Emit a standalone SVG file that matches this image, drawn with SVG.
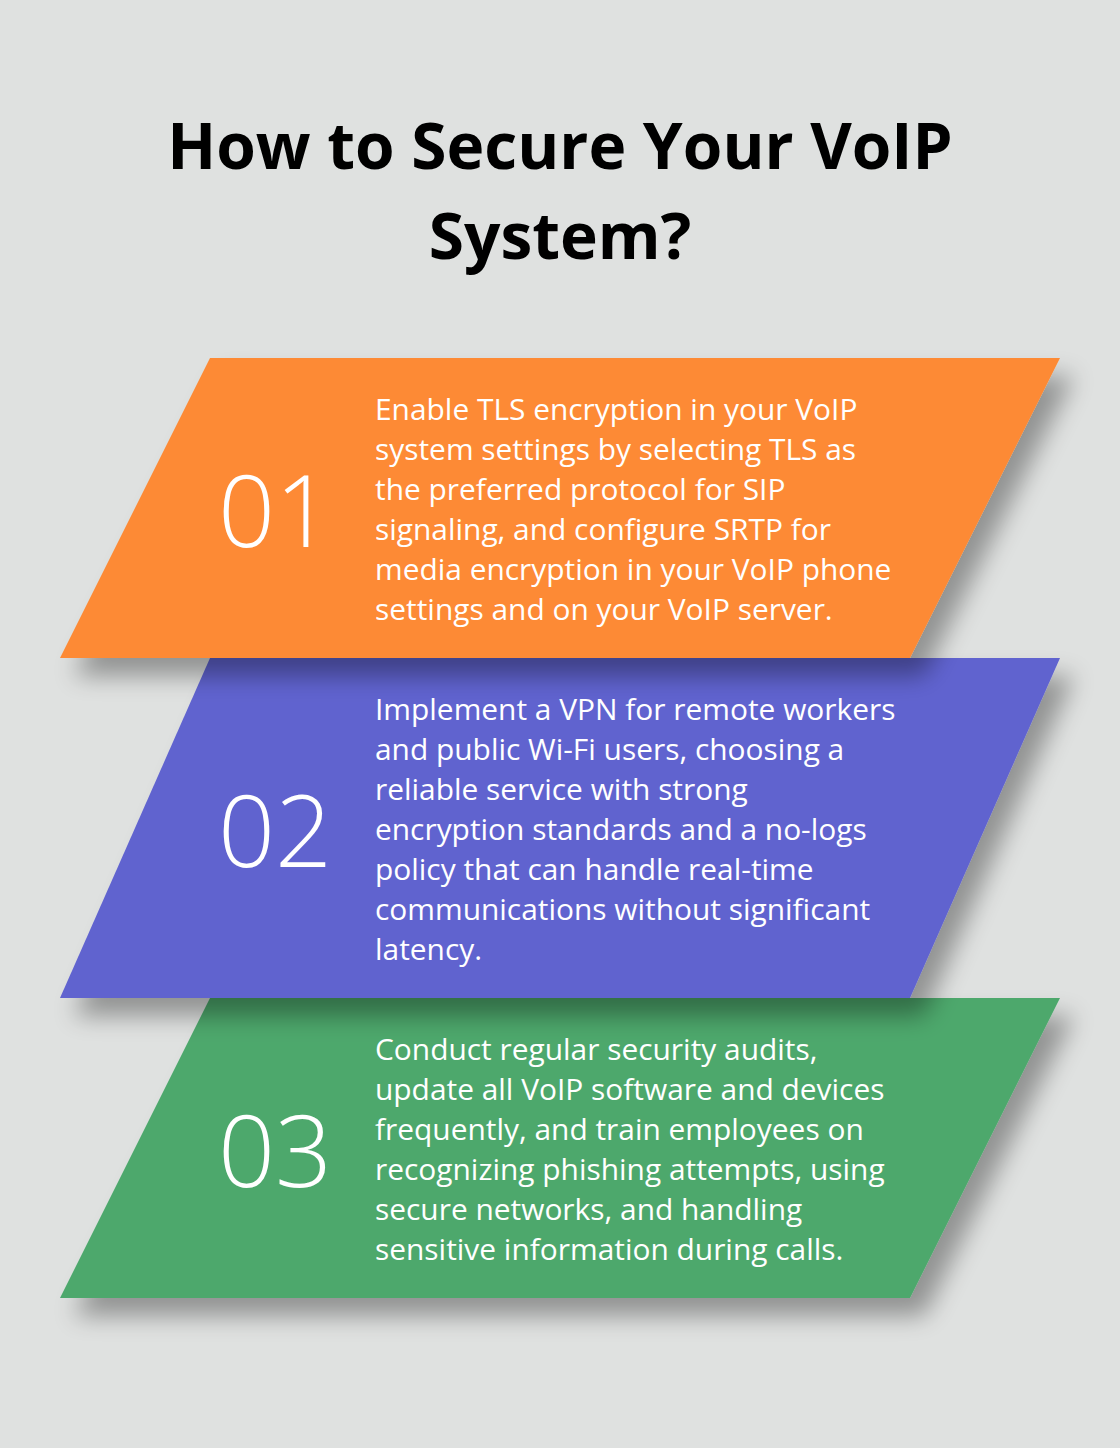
<svg xmlns="http://www.w3.org/2000/svg" width="1120" height="1448" viewBox="0 0 1120 1448">
<style>
.t{font-family:"Open Sans","Noto Sans",sans-serif;font-weight:700;font-size:64px;fill:#000;text-anchor:middle}
.b{font-family:"Open Sans","Noto Sans",sans-serif;font-size:29.9px;fill:#fff}
.n{font-family:"Open Sans","Noto Sans",sans-serif;font-weight:300;font-size:100px;fill:#fff}
</style>
<defs>
<filter id="sh" x="-20%" y="-20%" width="140%" height="160%">
<feGaussianBlur in="SourceAlpha" stdDeviation="12"/>
<feOffset dx="14" dy="18"/>
<feComponentTransfer><feFuncA type="linear" slope="0.35"/></feComponentTransfer>
<feMerge><feMergeNode/><feMergeNode in="SourceGraphic"/></feMerge>
</filter>
</defs>
<rect width="1120" height="1448" fill="#dfe1e0"/>
<text class="t" x="560" y="169">How to Secure Your VoIP</text>
<text class="t" x="560" y="259">System?</text>
<g id="step3">
<polygon points="210,998 1060,998 910,1298 60,1298" fill="#4ea86c" filter="url(#sh)"/>
<text class="n" x="218" y="1187">03</text>
<text class="b"><tspan x="375" y="1060">Conduct regular security audits,</tspan><tspan x="375" y="1100">update all VoIP software and devices</tspan><tspan x="375" y="1140">frequently, and train employees on</tspan><tspan x="375" y="1180">recognizing phishing attempts, using</tspan><tspan x="375" y="1220">secure networks, and handling</tspan><tspan x="375" y="1260">sensitive information during calls.</tspan></text>
</g>
<g id="step2">
<polygon points="210,658 1060,658 910,998 60,998" fill="#6063cf" filter="url(#sh)"/>
<text class="n" x="218" y="867">02</text>
<text class="b"><tspan x="375" y="720">Implement a VPN for remote workers</tspan><tspan x="375" y="760">and public Wi-Fi users, choosing a</tspan><tspan x="375" y="800">reliable service with strong</tspan><tspan x="375" y="840">encryption standards and a no-logs</tspan><tspan x="375" y="880">policy that can handle real-time</tspan><tspan x="375" y="920">communications without significant</tspan><tspan x="375" y="960">latency.</tspan></text>
</g>
<g id="step1">
<polygon points="210,358 1060,358 910,658 60,658" fill="#fd8a35" filter="url(#sh)"/>
<text class="n" x="218" y="547">01</text>
<text class="b"><tspan x="375" y="420">Enable TLS encryption in your VoIP</tspan><tspan x="375" y="460">system settings by selecting TLS as</tspan><tspan x="375" y="500">the preferred protocol for SIP</tspan><tspan x="375" y="540">signaling, and configure SRTP for</tspan><tspan x="375" y="580">media encryption in your VoIP phone</tspan><tspan x="375" y="620">settings and on your VoIP server.</tspan></text>
</g>
<g id="connectors"/>
</svg>
